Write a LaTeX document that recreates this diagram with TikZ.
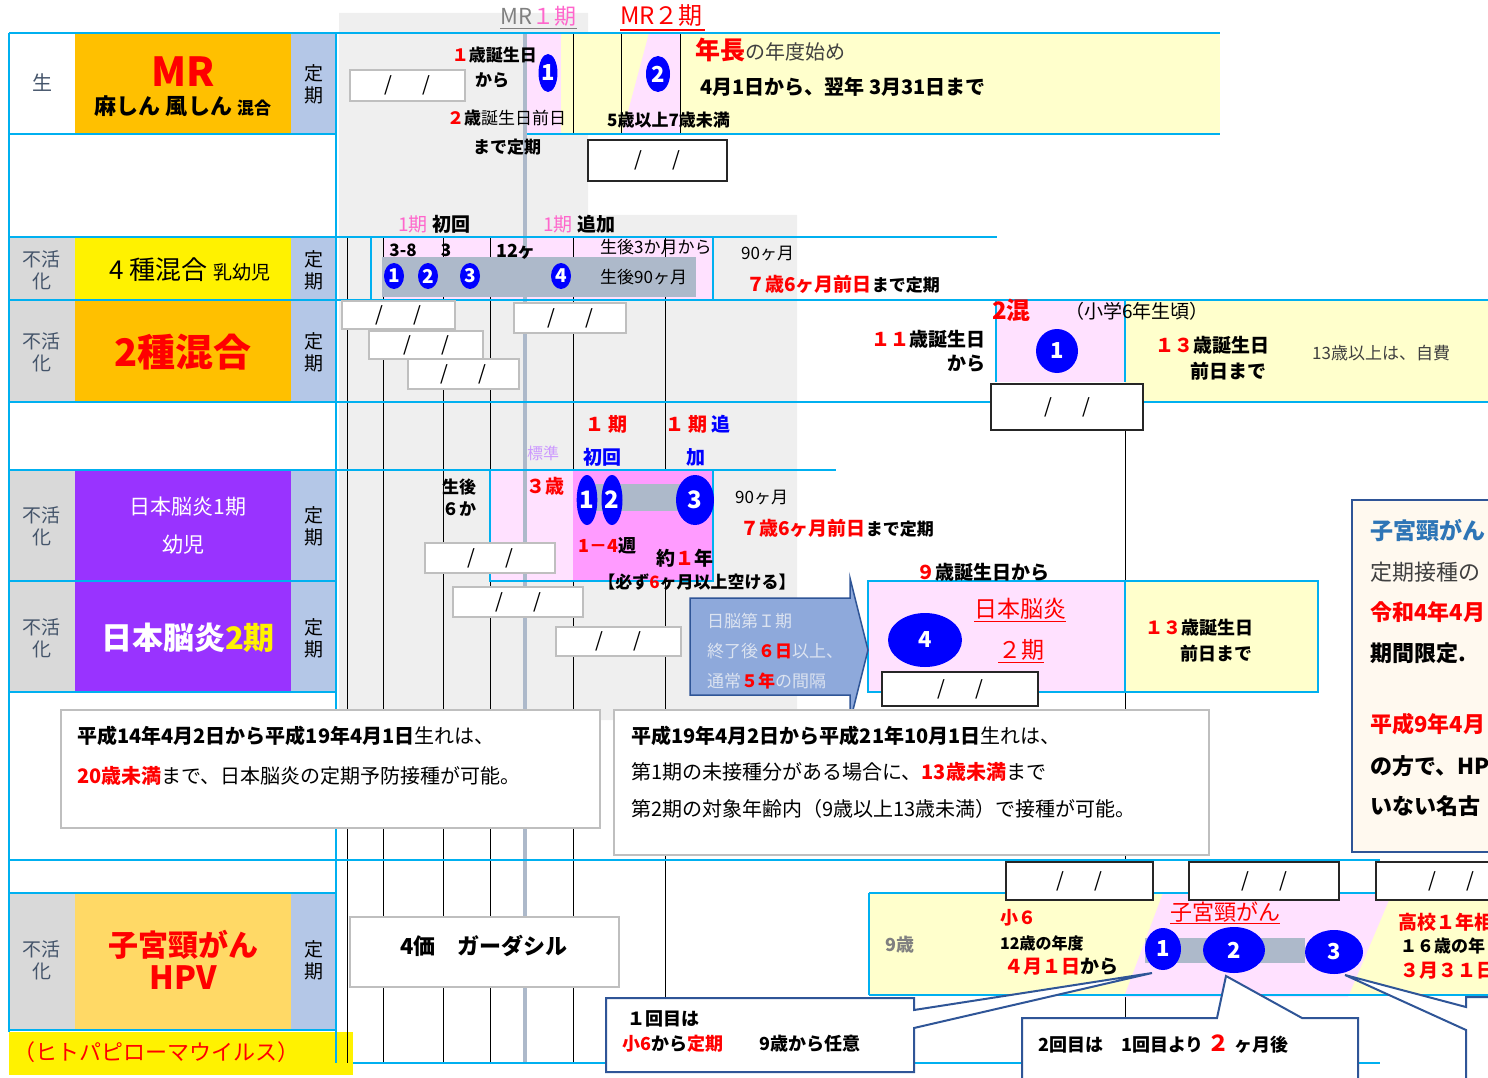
\documentclass[tikz,border=0pt]{standalone}
\usepackage{fontspec}
\setmainfont{Noto Sans CJK JP}
\usetikzlibrary{shapes.geometric,positioning,calc}
\newcommand\pxfont[1]{\fontsize{#1}{#1}\selectfont}
\definecolor{lnblue}{HTML}{00B0F0}
\definecolor{cellgray}{HTML}{D9D9D9}
\definecolor{txgray}{HTML}{44546A}
\definecolor{teiki}{HTML}{B4C7E7}
\definecolor{mrorange}{HTML}{FFC000}
\definecolor{jepurple}{HTML}{9933FF}
\definecolor{hpvyel}{HTML}{FFD966}
\definecolor{paleyel}{HTML}{FFFFCC}
\definecolor{palepink}{HTML}{FFE1FF}
\definecolor{hotpink}{HTML}{FF9BFF}
\definecolor{vblue}{HTML}{0000FF}
\definecolor{barblue}{HTML}{ADB9CA}
\definecolor{arrowfill}{HTML}{8EA9DB}
\definecolor{navy}{HTML}{2F5597}
\definecolor{kpink}{HTML}{FF66CC}
\definecolor{bgshade}{HTML}{EFEFEF}
\definecolor{jred}{HTML}{FF0000}
\definecolor{creme}{HTML}{FFF9EF}
\definecolor{hblue}{HTML}{2E75B6}
\definecolor{lav}{HTML}{CC99FF}
\definecolor{pale}{HTML}{DCE3F0}
\tikzset{
  grid/.style={draw=lnblue, line width=2.8pt},
  tick/.style={draw=black, line width=0.8pt},
  lbl/.style={inner sep=0pt},
  datebox/.style={draw=gray!50, fill=white, line width=1.5pt, inner sep=0pt, font=\pxfont{20}},
  datebk/.style={draw=black!85, fill=white, line width=1.8pt, inner sep=0pt, font=\pxfont{20}},
  shot/.style={ellipse, fill=vblue, text=white, inner sep=0pt},
  callout/.style={fill=white, draw=navy, line width=2pt},
}
\begin{document}
\begin{tikzpicture}[x=1pt,y=-1pt]
\useasboundingbox (0,0) rectangle (1488,1078);
% Hintergrund
\fill[bgshade] (339,13) -- (588,13) -- (588,215) -- (797,215) -- (797,720) -- (339,720) -- cycle;

% linke Tabelle
\fill[mrorange] (75,33) rectangle (291,134);
\fill[teiki] (291,33) rectangle (336,134);
\fill[cellgray] (9,237) rectangle (75,402);
\fill[yellow] (75,237) rectangle (291,300);
\fill[mrorange] (75,300) rectangle (291,402);
\fill[teiki] (291,237) rectangle (336,402);
\fill[cellgray] (9,470) rectangle (75,692);
\fill[jepurple] (75,470) rectangle (291,692);
\fill[teiki] (291,470) rectangle (336,692);
\fill[cellgray] (9,893) rectangle (75,1030);
\fill[hpvyel] (75,893) rectangle (291,1030);
\fill[teiki] (291,893) rectangle (336,1030);
\fill[yellow] (9,1032) rectangle (353,1075);

% Felder im Zeitstrahl
\fill[paleyel] (561,33) rectangle (1220,134);
\fill[palepink] (527,33) rectangle (561,134);
\fill[palepink] (649,33) -- (680,33) -- (680,134) -- (622,134) -- cycle;
\fill[palepink] (383,237) rectangle (713,300);
\fill[palepink] (490,470) rectangle (573,581);

% senkrechte Linien
\foreach \xx in {347,383,443,490,573,665}{
  \draw[tick] (\xx,237) -- (\xx,1063);
}
\foreach \xx in {573,621,680}{
  \draw[tick] (\xx,33) -- (\xx,134);
}
\draw[tick] (1125,430) -- (1125,1063);
\draw[barblue, line width=4pt] (525,33) -- (525,1063);

\fill[barblue] (382,257) rectangle (696,297);
\fill[hotpink] (573,470) rectangle (713,581);
\fill[barblue] (595,484) rectangle (695,511);
\fill[palepink] (996,300) rectangle (1125,382);
\fill[paleyel] (1125,300) rectangle (1488,402);
\fill[palepink] (868,581) rectangle (1125,692);
\fill[paleyel] (1125,581) rectangle (1318,692);
\fill[paleyel] (869,893) rectangle (1500,995);
\fill[palepink] (1163,893) -- (1392,893) -- (1348,997) -- (1124,997) -- cycle;
\fill[barblue] (1145,938) rectangle (1305,963);

% blaue Linien
\draw[grid] (9,33) -- (1220,33);
\draw[grid] (9,134) -- (336,134);
\draw[grid] (527,134) -- (1220,134);
\draw[grid] (9,237) -- (997,237);
\draw[grid] (9,300) -- (1488,300);
\draw[grid] (9,402) -- (1488,402);
\draw[grid] (9,470) -- (836,470);
\draw[grid] (9,581) -- (336,581);
\draw[grid] (9,692) -- (336,692);
\draw[grid] (9,860) -- (1380,860);
\draw[grid] (9,893) -- (336,893);
\draw[grid] (9,1030) -- (336,1030);
\draw[grid] (353,1063) -- (1380,1063);
\draw[grid] (9,33) -- (9,1032);
\draw[grid] (336,33) -- (336,1063);
\draw[grid] (371,237) -- (371,300);
\draw[grid] (713,237) -- (713,300);
\draw[grid] (490,470) rectangle (713,581);
\draw[grid] (996,300) -- (996,382);
\draw[grid] (1125,300) -- (1125,382);
\draw[grid] (868,581) rectangle (1318,692);
\draw[grid] (1125,581) -- (1125,692);
\draw[grid] (869,893) -- (1500,893);
\draw[grid] (869,995) -- (1500,995);
\draw[grid] (869,893) -- (869,995);

% Beschriftung links
\node[lbl, text=txgray, font=\pxfont{20}] (sei) at (42,83) {生};
\node[lbl, text=jred, font=\pxfont{40}\bfseries] (mrname) at (183,72) {MR};
\node[lbl, font=\bfseries] (mrsub) at (183,106) {\pxfont{22}麻しん 風しん \pxfont{17}混合};
\foreach \yy/\nm in {84/t1,270/t2,352/t3,526/t4,638/t5,960/t6}{
  \node[lbl, align=center, font=\pxfont{19}] (\nm) at (314,\yy) {定\\[3pt]期};
}
\foreach \yy/\nm in {270/f2,352/f3,526/f4,638/f5,960/f6}{
  \node[lbl, align=center, text=txgray, font=\pxfont{19}] (\nm) at (42,\yy) {不活\\[3pt]化};
}
\node[lbl] (dtp) at (190,270) {\pxfont{26}4 種混合 \pxfont{19}乳幼児};
\node[lbl, text=jred, font=\pxfont{38}\bfseries] (nishu) at (183,352) {2種混合};
\node[lbl, text=white, font=\pxfont{21}] (je1) at (188,507) {日本脳炎1期};
\node[lbl, text=white, font=\pxfont{21}] (je1b) at (183,545) {幼児};
\node[lbl, text=white, font=\pxfont{31}\bfseries] (je2) at (188,638) {日本脳炎{\color{yellow}2期}};
\node[lbl, text=jred, font=\pxfont{30}\bfseries] (hpv1) at (183,945) {子宮頸がん};
\node[lbl, text=jred, font=\pxfont{32}\bfseries] (hpv2) at (183,978) {HPV};
\node[lbl, anchor=west, text=jred, font=\pxfont{22}] (hpvvirus) at (13,1052) {（ヒトパピローマウイルス）};

% MR
\node[lbl, anchor=west, font=\pxfont{22}] (mrI) at (500,16) {{\color{gray}MR}{\color{kpink}１期}};
\draw[gray, line width=1pt] (500,29) -- (577,29);
\node[lbl, anchor=west, text=jred, font=\pxfont{24}] (mrII) at (620,16) {MR２期};
\draw[jred, line width=1.2pt] (620,30) -- (705,30);
\node[shot, minimum width=18pt, minimum height=38pt, font=\pxfont{22}\bfseries] (mrshot1) at (548,73) {1};
\node[shot, minimum width=24pt, minimum height=36pt, font=\pxfont{22}\bfseries] (mrshot2) at (658,74) {2};
\node[lbl, anchor=east, font=\pxfont{17}\bfseries] (mrfrom) at (537,55) {{\color{jred}１}歳誕生日};
\node[lbl, font=\pxfont{17}\bfseries] (mrkara) at (492,80) {から};
\node[lbl, anchor=west, font=\pxfont{17}] (mrto) at (447,118) {{\color{jred}\bfseries ２}\textbf{歳}誕生日前日};
\node[lbl, anchor=west, font=\pxfont{17}\bfseries] (mrmade) at (473,147) {まで定期};
\node[lbl, anchor=west] (nencho) at (695,50) {{\color{jred}\pxfont{25}\bfseries 年長}{\color{darkgray}\pxfont{20}の年度始め}};
\node[lbl, anchor=west, font=\pxfont{20}\bfseries] (nendo) at (700,87) {4月1日から、翌年 3月31日まで};
\node[lbl, anchor=west, font=\pxfont{17}\bfseries] (goyo) at (607,120) {5歳以上7歳未満};
\node[datebox, minimum width=115pt, minimum height=31pt] (mrd1) at (407.5,85.5) {/\hspace{30pt}/};
\node[datebk, minimum width=139pt, minimum height=41pt] (mrd2) at (657.5,160.5) {/\hspace{30pt}/};
\node[lbl, anchor=west, font=\pxfont{19}] (ki1) at (398,224) {{\color{kpink}1期} \textbf{初回}};
\node[lbl, anchor=west, font=\pxfont{19}] (ki1b) at (543,224) {{\color{kpink}1期} \textbf{追加}};

% 4種混合
\foreach \xx/\nn in {394/1,428/2,470/3,561/4}{
  \node[shot, minimum width=20pt, minimum height=26pt, font=\pxfont{19}\bfseries] (dtp\nn) at (\xx,276) {\nn};
}
\node[lbl, font=\pxfont{17}\bfseries] (dtpa) at (403,250) {3-8};
\node[lbl, font=\pxfont{17}\bfseries] (dtpb) at (446,250) {3};
\node[lbl, font=\pxfont{18}\bfseries] (dtpc) at (516,252) {12ヶ};
\node[lbl, anchor=west, font=\pxfont{17}] (dtpd) at (600,247) {生後3か月から};
\node[lbl, anchor=west, font=\pxfont{17}] (dtpe) at (600,277) {生後90ヶ月};
\node[lbl, anchor=west, font=\pxfont{17}] (dtpf) at (741,253) {90ヶ月};
\node[lbl, anchor=west, font=\bfseries] (dtpg) at (746,284) {{\color{jred}\pxfont{19}７歳6ヶ月前日}\pxfont{17}まで定期};

% 2種混合
\node[datebox, minimum width=113pt, minimum height=28pt] (dtd1) at (398.5,315) {/\hspace{30pt}/};
\node[datebox, minimum width=114pt, minimum height=28pt] (dtd2) at (426,345) {/\hspace{30pt}/};
\node[datebox, minimum width=111pt, minimum height=30pt] (dtd3) at (463.5,374) {/\hspace{30pt}/};
\node[datebox, minimum width=112pt, minimum height=30pt] (dtd4) at (570,318) {/\hspace{30pt}/};
\node[shot, minimum width=42pt, minimum height=44pt, font=\pxfont{22}\bfseries] (dtshot) at (1057,351) {1};
\node[lbl, anchor=west, text=jred, font=\pxfont{24}\bfseries] (nikon) at (992,310) {2混};
\node[lbl, anchor=west, font=\pxfont{19}] (shogaku) at (1065,311) {（小学6年生頃）};
\node[lbl, anchor=east, font=\pxfont{19}\bfseries] (dtfrom) at (986,339) {{\color{jred}１１}歳誕生日};
\node[lbl, anchor=east, font=\pxfont{19}\bfseries] (dtkara) at (986,364) {から};
\node[lbl, anchor=west, font=\pxfont{19}\bfseries] (dtto) at (1155,345) {{\color{jred}１３}歳誕生日};
\node[lbl, anchor=west, font=\pxfont{19}\bfseries] (dtmade) at (1190,371) {前日まで};
\node[lbl, anchor=west, text=darkgray, font=\pxfont{17}] (jihi) at (1312,353) {13歳以上は、自費};
\node[datebk, minimum width=152pt, minimum height=46pt] (dtd5) at (1067,407) {/\hspace{30pt}/};

% 日本脳炎1期
\node[lbl, anchor=west, text=jred, font=\pxfont{19}\bfseries] (jek1) at (585,424) {１ 期};
\node[lbl, anchor=west, text=vblue, font=\pxfont{19}\bfseries] (jek1b) at (583,457) {初回};
\node[lbl, anchor=west, font=\pxfont{19}\bfseries] (jek2) at (665,424) {{\color{jred}１ 期} {\color{vblue}追}};
\node[lbl, anchor=west, text=vblue, font=\pxfont{19}\bfseries] (jek2b) at (686,457) {加};
\node[lbl, text=lav, font=\pxfont{16}] (hyojun) at (543,453) {標準};
\node[shot, minimum width=20pt, minimum height=50pt, font=\pxfont{24}\bfseries] (jeshot1) at (587,500) {1};
\node[shot, minimum width=21pt, minimum height=50pt, font=\pxfont{24}\bfseries] (jeshot2) at (612,500) {2};
\node[shot, minimum width=38pt, minimum height=50pt, font=\pxfont{24}\bfseries] (jeshot3) at (695,500) {3};
\node[lbl, align=center, font=\pxfont{17}\bfseries] (jeseigo) at (459,498) {生後\\[5pt]６か};
\node[lbl, text=jred, font=\pxfont{19}\bfseries] (jesan) at (545,486) {３歳};
\node[lbl, anchor=west, font=\pxfont{18}\bfseries] (jeshu) at (578,546) {{\color{jred}1－4}週};
\node[lbl, anchor=west, font=\pxfont{19}\bfseries] (jenen) at (656,558) {約{\color{jred}１}年};
\node[lbl, font=\pxfont{17}\bfseries] (jekanarazu) at (697,582) {【必ず{\color{jred}6}ヶ月以上空ける】};
\node[lbl, anchor=west, font=\pxfont{17}] (jekyu) at (735,497) {90ヶ月};
\node[lbl, anchor=west, font=\bfseries] (jemade) at (740,528) {{\color{jred}\pxfont{19}７歳6ヶ月前日}\pxfont{17}まで定期};
\node[datebox, minimum width=130pt, minimum height=30pt] (jed1) at (490,558) {/\hspace{30pt}/};
\node[datebox, minimum width=130pt, minimum height=30pt] (jed2) at (518,602) {/\hspace{30pt}/};
\node[datebox, minimum width=125pt, minimum height=29pt] (jed3) at (618.5,641.5) {/\hspace{30pt}/};

% Pfeil
\filldraw[fill=arrowfill, draw=navy, line width=1.5pt] (690,598) -- (850,598) -- (850,578) -- (868,650) -- (850,722) -- (850,695) -- (690,695) -- cycle;
\node[lbl, anchor=west, text=pale, font=\pxfont{17}] (ya1) at (707,621) {日脳第Ｉ期};
\node[lbl, anchor=west, text=pale, font=\pxfont{17}] (ya2) at (707,651) {終了後{\color{jred}\bfseries ６日}以上、};
\node[lbl, anchor=west, text=pale, font=\pxfont{17}] (ya3) at (707,681) {通常{\color{jred}\bfseries ５年}の間隔};

% 日本脳炎2期
\node[shot, minimum width=74pt, minimum height=54pt, font=\pxfont{22}\bfseries] (jeshot4) at (925,640) {4};
\node[lbl, text=jred, font=\pxfont{23}] (jeII) at (1020,610) {\underline{日本脳炎}};
\node[lbl, text=jred, font=\pxfont{23}] (jeIIb) at (1021,651) {\underline{２期}};
\node[lbl, anchor=west, font=\pxfont{19}\bfseries] (jeIIfrom) at (916,572) {{\color{jred}９}歳誕生日から};
\node[lbl, anchor=west, font=\pxfont{18}\bfseries] (jeIIto) at (1145,628) {{\color{jred}１３}歳誕生日};
\node[lbl, anchor=west, font=\pxfont{18}\bfseries] (jeIImade) at (1180,654) {前日まで};
\node[datebk, minimum width=156pt, minimum height=34pt] (jed4) at (960,689) {/\hspace{30pt}/};

% Hinweise
\filldraw[fill=white, draw=gray!50, line width=1.5pt] (61,710) rectangle (600,828);
\node[lbl, anchor=west, font=\pxfont{20}] (memo1a) at (77,736) {\textbf{平成14年4月2日から平成19年4月1日}生れは、};
\node[lbl, anchor=west, font=\pxfont{20}] (memo1b) at (77,776) {{\color{jred}\bfseries 20歳未満}まで、日本脳炎の定期予防接種が可能。};
\filldraw[fill=white, draw=gray!50, line width=1.5pt] (614,710) rectangle (1209,855);
\node[lbl, anchor=west, font=\pxfont{20}] (memo2a) at (631,736) {\textbf{平成19年4月2日から平成21年10月1日}生れは、};
\node[lbl, anchor=west, font=\pxfont{20}] (memo2b) at (631,772) {第1期の未接種分がある場合に、{\color{jred}\bfseries 13歳未満}まで};
\node[lbl, anchor=west, font=\pxfont{20}] (memo2c) at (631,809) {第2期の対象年齢内（9歳以上13歳未満）で接種が可能。};
\filldraw[fill=creme, draw=navy, line width=2pt] (1352,500) rectangle (1500,852);
\node[lbl, anchor=west, text=hblue, font=\pxfont{23}\bfseries] (migi1) at (1370,531) {子宮頸がん};
\node[lbl, anchor=west, text=darkgray, font=\pxfont{22}] (migi2) at (1370,572) {定期接種の};
\node[lbl, anchor=west, text=jred, font=\pxfont{22}\bfseries] (migi3) at (1370,612) {令和4年4月};
\node[lbl, anchor=west, font=\pxfont{22}\bfseries] (migi4) at (1370,653) {期間限定.};
\node[lbl, anchor=west, text=jred, font=\pxfont{22}\bfseries] (migi5) at (1370,724) {平成9年4月};
\node[lbl, anchor=west, font=\pxfont{22}\bfseries] (migi6) at (1370,766) {の方で、HP};
\node[lbl, anchor=west, font=\pxfont{22}\bfseries] (migi7) at (1370,806) {いない名古};

% HPV
\filldraw[fill=white, draw=gray!50, line width=1.5pt] (350,917) rectangle (619,987);
\node[lbl, font=\pxfont{22}\bfseries] (gardasil) at (484,946) {4価　ガーダシル};
\node[datebk, minimum width=147pt, minimum height=38pt] (hpd1) at (1079.5,881) {/\hspace{30pt}/};
\node[datebk, minimum width=150pt, minimum height=38pt] (hpd2) at (1264,881) {/\hspace{30pt}/};
\node[datebk, minimum width=150pt, minimum height=38pt] (hpd3) at (1451,881) {/\hspace{30pt}/};
\node[shot, minimum width=36pt, minimum height=42pt, font=\pxfont{22}\bfseries] (hpshot1) at (1163,949) {1};
\node[shot, minimum width=62pt, minimum height=46pt, font=\pxfont{22}\bfseries] (hpshot2) at (1234,950) {2};
\node[shot, minimum width=58pt, minimum height=44pt, font=\pxfont{22}\bfseries] (hpshot3) at (1334,952) {3};
\node[lbl, text=jred, font=\pxfont{22}] (hpname) at (1225,913) {\underline{子宮頸がん}};
\node[lbl, text=gray, font=\pxfont{18}\bfseries] (hpq) at (900,945) {9歳};
\node[lbl, anchor=west, text=jred, font=\pxfont{18}\bfseries] (hpsho) at (1000,918) {小６};
\node[lbl, anchor=west, font=\pxfont{16}\bfseries] (hpnendo) at (1000,943) {12歳の年度};
\node[lbl, anchor=west, font=\pxfont{19}\bfseries] (hpfrom) at (1004,967) {{\color{jred}４月１日}から};
\node[lbl, anchor=west, text=jred, font=\pxfont{19}\bfseries] (hpko) at (1398,922) {高校１年相};
\node[lbl, anchor=west, font=\pxfont{17}\bfseries] (hpjuroku) at (1400,946) {１６歳の年};
\node[lbl, anchor=west, text=jred, font=\pxfont{19}\bfseries] (hpto) at (1400,971) {３月３１日};

% Sprechblasen
\filldraw[callout] (606,998) -- (914,998) -- (914,1010) -- (1152,973) -- (914,1028) -- (914,1072) -- (606,1072) -- cycle;
\node[lbl, anchor=west, font=\pxfont{18}\bfseries] (fuki1a) at (627,1019) {１回目は};
\node[lbl, anchor=west, font=\pxfont{18}\bfseries] (fuki1b) at (622,1044) {{\color{jred}小6}から{\color{jred}定期}　　9歳から任意};
\filldraw[callout] (1022,1018) -- (1217,1018) -- (1226,976) -- (1302,1018) -- (1358,1018) -- (1358,1090) -- (1022,1090) -- cycle;
\node[lbl, anchor=west, font=\pxfont{18}\bfseries] (fuki2) at (1038,1044) {2回目は　1回目より {\color{jred}\pxfont{22}２} ヶ月後};
\filldraw[callout] (1466,997) -- (1500,997) -- (1500,1090) -- (1466,1090) -- (1466,1030) -- (1345,975) -- (1466,1007) -- cycle;
\end{tikzpicture}
\end{document}
